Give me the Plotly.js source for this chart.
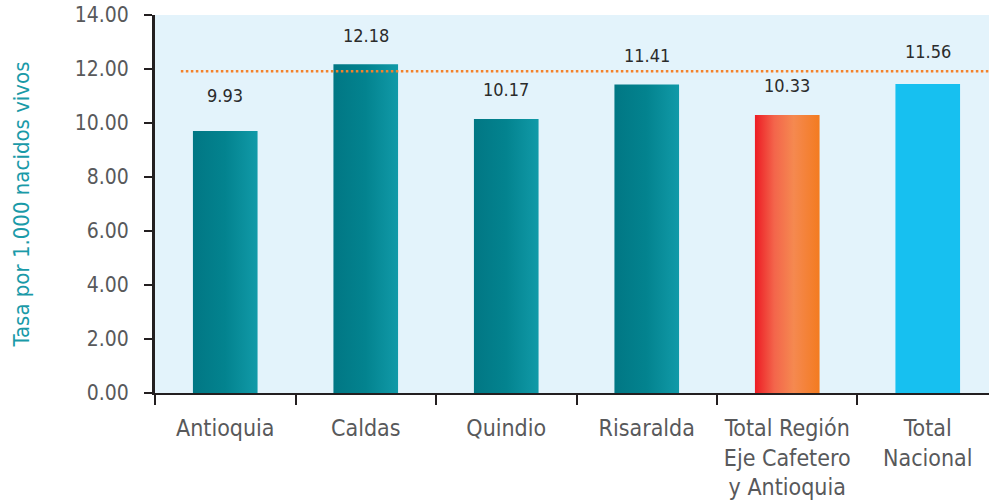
<!DOCTYPE html>
<html>
<head>
<meta charset="utf-8">
<script src="https://cdn.plot.ly/plotly-3.0.1.min.js"></script>
<style>
html,body{margin:0;padding:0;background:#fff;}
#chart{width:989px;height:504px;}
</style>
</head>
<body>
<div id="chart"></div>
<script>
var categories = ['Antioquia', 'Caldas', 'Quindio', 'Risaralda', 'Total Región<br>Eje Cafetero<br>y Antioquia', 'Total<br>Nacional'];
var barValues = [9.70, 12.18, 10.15, 11.43, 10.30, 11.44];
var labelValues = [9.93, 12.18, 10.17, 11.41, 10.33, 11.56];
var referenceLine = 11.92;
var yTickVals = [0, 2, 4, 6, 8, 10, 12, 14];
var yTickText = ['0.00', '2.00', '4.00', '6.00', '8.00', '10.00', '12.00', '14.00'];

var FONT = '"Liberation Sans Narrow", "DejaVu Sans Condensed", "Liberation Sans", sans-serif';
var fallbackColors = ['#0a8a97', '#0a8a97', '#0a8a97', '#0a8a97', '#f36f45', '#17c0f0'];
var gradIds = ['gTeal', 'gTeal', 'gTeal', 'gTeal', 'gRed', null];

var trace = {
  type: 'bar',
  x: categories,
  y: barValues,
  width: 0.46,
  marker: {color: fallbackColors, line: {width: 0}},
  hoverinfo: 'skip'
};

var annotations = categories.map(function (c, i) {
  return {
    x: c, y: labelValues[i], xref: 'x', yref: 'y',
    text: labelValues[i].toFixed(2), showarrow: false,
    yanchor: 'middle', yshift: 29,
    font: {family: FONT, size: 18, color: '#2b2b2b'}
  };
});

var layout = {
  width: 989, height: 504,
  margin: {l: 155, r: 0, t: 15, b: 111},
  paper_bgcolor: '#ffffff',
  plot_bgcolor: '#e3f3fb',
  showlegend: false,
  xaxis: {
    type: 'category',
    range: [-0.5, 5.436],
    tickson: 'boundaries',
    ticks: 'outside', ticklen: 10, tickwidth: 2, tickcolor: '#231f20',
    showline: true, linecolor: '#231f20', linewidth: 2,
    showgrid: false, zeroline: false,
    ticklabelstandoff: 13,
    tickfont: {family: FONT, size: 23, color: '#58595b'},
    fixedrange: true
  },
  yaxis: {
    range: [0, 14],
    tickvals: yTickVals, ticktext: yTickText,
    ticks: 'outside', ticklen: 8, tickwidth: 2, tickcolor: '#231f20',
    showline: true, linecolor: '#231f20', linewidth: 3,
    showgrid: false, zeroline: false,
    ticklabelstandoff: 11,
    tickfont: {family: FONT, size: 21, color: '#58595b'},
    title: {text: 'Tasa por 1.000 nacidos vivos', standoff: 40,
            font: {family: FONT, size: 22, color: '#1a9aa8'}},
    fixedrange: true
  },
  shapes: [{
    type: 'line', xref: 'paper', yref: 'y',
    x0: 0.031, x1: 1, y0: referenceLine, y1: referenceLine,
    line: {color: '#f4822a', width: 2.5, dash: '2.5px,2.5px'}
  }],
  annotations: annotations
};

function addGradients(gd) {
  var svg = gd.querySelector('svg.main-svg');
  var defs = svg.querySelector('defs');
  var NS = 'http://www.w3.org/2000/svg';
  var grads = {
    gTeal: [[0, '#017784'], [0.5, '#03838f'], [1, '#119aa8']],
    gRed: [[0, '#ed1c24'], [0.3, '#f3654b'], [0.6, '#f58950'], [1, '#f37b20']]
  };
  Object.keys(grads).forEach(function (id) {
    var lg = document.createElementNS(NS, 'linearGradient');
    lg.setAttribute('id', id);
    lg.setAttribute('x1', '0'); lg.setAttribute('y1', '0');
    lg.setAttribute('x2', '1'); lg.setAttribute('y2', '0');
    grads[id].forEach(function (s) {
      var st = document.createElementNS(NS, 'stop');
      st.setAttribute('offset', s[0]);
      st.setAttribute('stop-color', s[1]);
      lg.appendChild(st);
    });
    defs.appendChild(lg);
  });
  var paths = gd.querySelectorAll('.barlayer .point path');
  paths.forEach(function (p, i) {
    if (gradIds[i]) p.style.fill = 'url(#' + gradIds[i] + ')';
  });
}

Plotly.newPlot('chart', [trace], layout, {displayModeBar: false, staticPlot: true}).then(addGradients);
</script>
</body>
</html>
